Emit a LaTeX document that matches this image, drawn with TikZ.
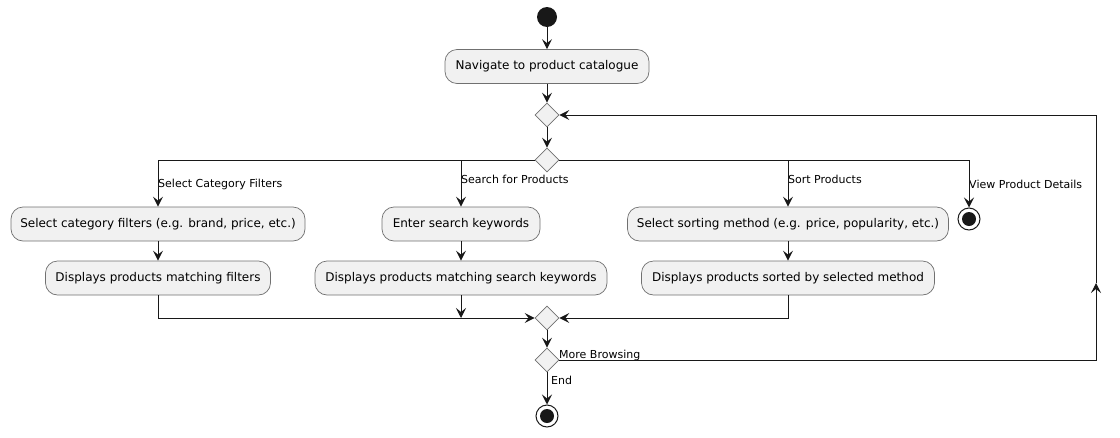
\documentclass[tikz,border=0pt]{standalone}
\usepackage{fontspec}
\setmainfont{DejaVu Sans}
\usetikzlibrary{shapes.geometric,arrows.meta}
\definecolor{bx}{HTML}{F1F1F1}
\definecolor{ln}{HTML}{181818}
\definecolor{bd}{HTML}{707070}
\begin{document}
\begin{tikzpicture}[x=1pt,y=-1pt,
  act/.style={draw=bd, fill=bx, line width=0.7pt, rounded corners=12pt, minimum height=34pt, inner xsep=0pt, inner ysep=0pt, font=\fontsize{12}{14}\selectfont},
  dia/.style={diamond, draw=bd, fill=bx, line width=0.7pt, minimum width=24pt, minimum height=24pt, inner sep=0pt},
  startc/.style={circle, fill=ln, minimum size=20pt, inner sep=0pt},
  endc/.style={circle, draw=ln, line width=1pt, minimum size=22pt, inner sep=0pt, path picture={\fill[ln] (path picture bounding box.center) circle (7pt);}},
  lbl/.style={anchor=west, inner sep=0pt, font=\fontsize{11}{13}\selectfont},
  flow/.style={draw=ln, line width=1pt},
  >={Stealth[length=10pt,width=10pt,inset=4pt]}
]
\useasboundingbox (0,0) rectangle (1120,437);
\node[startc] (start) at (547,17) {};
\node[act, minimum width=204pt] (nav) at (547,66.5) {Navigate to product catalogue};
\node[dia] (d1) at (547,115) {};
\node[dia] (d2) at (547,160) {};
\node[act, minimum width=294pt] (a1) at (158,224) {Select category filters (e.g. brand, price, etc.)};
\node[act, minimum width=225pt] (b1) at (158,278) {Displays products matching filters};
\node[act, minimum width=158pt] (a2) at (461,224) {Enter search keywords};
\node[act, minimum width=292pt] (b2) at (461,278) {Displays products matching search keywords};
\node[act, minimum width=321pt] (a3) at (788,224) {Select sorting method (e.g. price, popularity, etc.)};
\node[act, minimum width=293pt] (b3) at (788,278) {Displays products sorted by selected method};
\node[endc] (e1) at (969,219) {};
\node[dia] (d3) at (547,318) {};
\node[dia] (d4) at (547,360) {};
\node[endc] (e2) at (547,416) {};
\coordinate (mid) at (1096,283);

\node[lbl] (l1) at (158,184) {Select Category Filters};
\node[lbl] (l2) at (461,179) {Search for Products};
\node[lbl] (l3) at (788,179) {Sort Products};
\node[lbl] (l4) at (969,184) {View Product Details};
\node[lbl] (l5) at (559,355) {More Browsing};
\node[lbl] (l6) at (551,380) {End};

\draw[flow,->] (start) -- (nav);
\draw[flow,->] (nav) -- (d1);
\draw[flow,->] (d1) -- (d2);
\draw[flow,->] (d2.west) -| (a1.north);
\draw[flow,->] (d2.west) -| (a2.north);
\draw[flow,->] (d2.east) -| (a3.north);
\draw[flow,->] (d2.east) -| (e1.north);
\draw[flow,->] (a1) -- (b1);
\draw[flow,->] (a2) -- (b2);
\draw[flow,->] (a3) -- (b3);
\draw[flow,->] (b1.south) |- (d3.west);
\draw[flow,->] (b2.south) -- (b2.south |- d3.west);
\draw[flow,->] (b3.south) |- (d3.east);
\draw[flow,->] (d3) -- (d4);
\draw[flow,->] (d4) -- (e2);
\draw[flow,->] (d4.east) -| (mid);
\draw[flow,->] (mid) |- (d1.east);
\end{tikzpicture}
\end{document}
